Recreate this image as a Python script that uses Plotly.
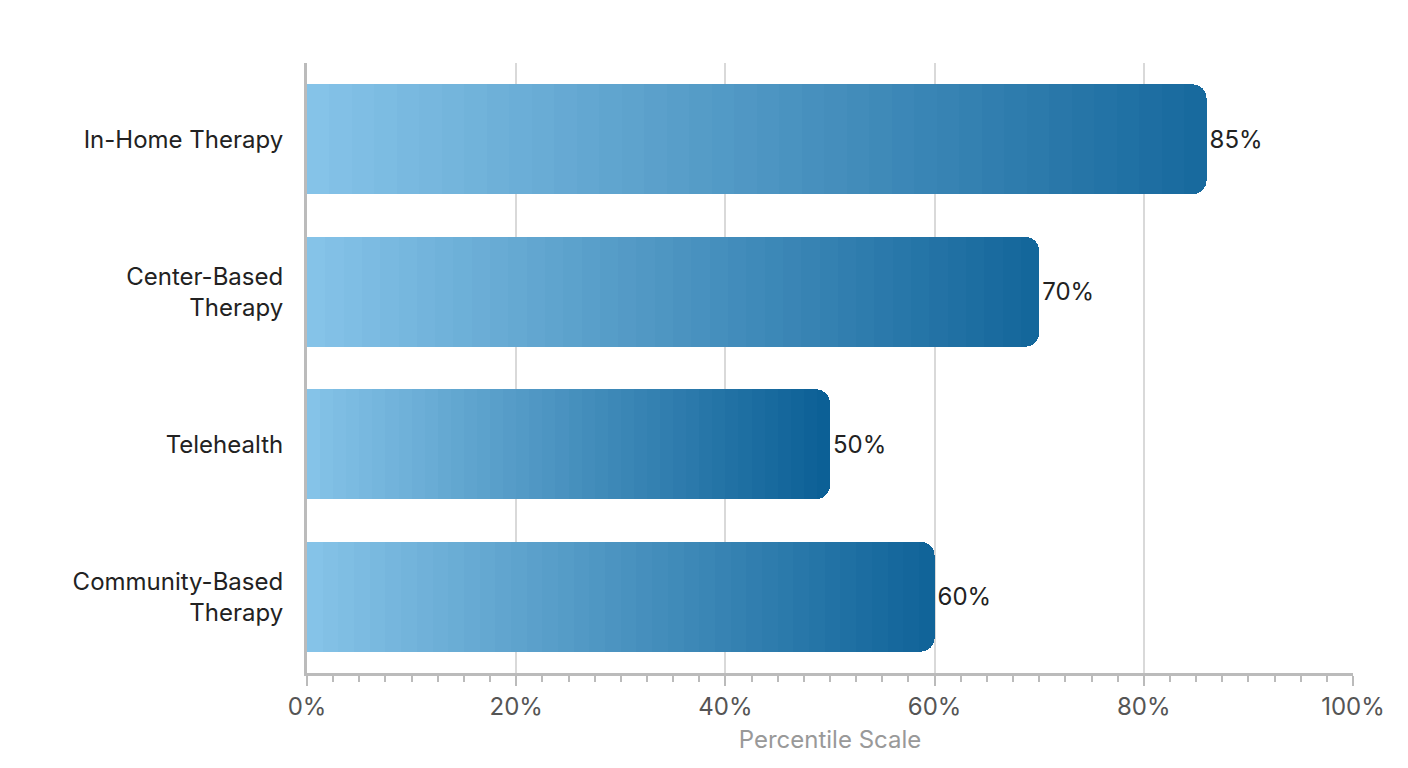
import plotly.graph_objects as go

categories = ["In-Home Therapy", "Center-Based<br>Therapy", "Telehealth", "Community-Based<br>Therapy"]
values = [86, 70, 50, 60]
labels = ["85%", "70%", "50%", "60%"]

light = (133, 195, 232)
dark = (12, 96, 150)
N = 40

fig = go.Figure()
for k in range(N):
    t = k / (N - 1)
    widths, colors, texts = [], [], []
    for v, lab in zip(values, labels):
        widths.append(v / N)
        tt = t * (0.75 + 0.25 * min(1, 50 / v)) if v > 50 else t
        c = tuple(int(light[i] + (dark[i] - light[i]) * tt) for i in range(3))
        colors.append("rgb(%d,%d,%d)" % c)
        texts.append(lab if k == N - 1 else "")
    fig.add_trace(go.Bar(
        y=categories, x=widths, orientation="h",
        marker=dict(color=colors, line=dict(width=0)),
        text=texts, textposition="outside", cliponaxis=False,
        textfont=dict(size=24, color="#222", family="Inter"),
        width=0.72, hoverinfo="skip", showlegend=False,
    ))

fig.update_layout(
    barmode="stack", barcornerradius=14, bargap=0.28,
    width=1408, height=768, plot_bgcolor="white", paper_bgcolor="white",
    margin=dict(l=299, r=63, t=55, b=103),
    font=dict(family="Inter", size=24, color="#222"),
    xaxis=dict(range=[0, 100], dtick=20, ticksuffix="%", showgrid=True,
               gridcolor="#d9d9d9", gridwidth=1.5, zeroline=False,
               showline=True, linecolor="#bbbbbb", linewidth=3,
               ticks="outside", tickcolor="#bbbbbb", ticklen=10, tickwidth=2,
               minor=dict(dtick=2.5, ticks="outside", ticklen=6, tickcolor="#bbbbbb", showgrid=False),
               tickfont=dict(size=24, color="#555"),
               title=dict(text="Percentile Scale", font=dict(size=24, color="#999"), standoff=12)),
    yaxis=dict(autorange="reversed", showline=True, linecolor="#bbbbbb", linewidth=3,
               ticks="", ticklabelstandoff=16, tickfont=dict(size=24, color="#222")),
)
fig.write_html("out.html")
